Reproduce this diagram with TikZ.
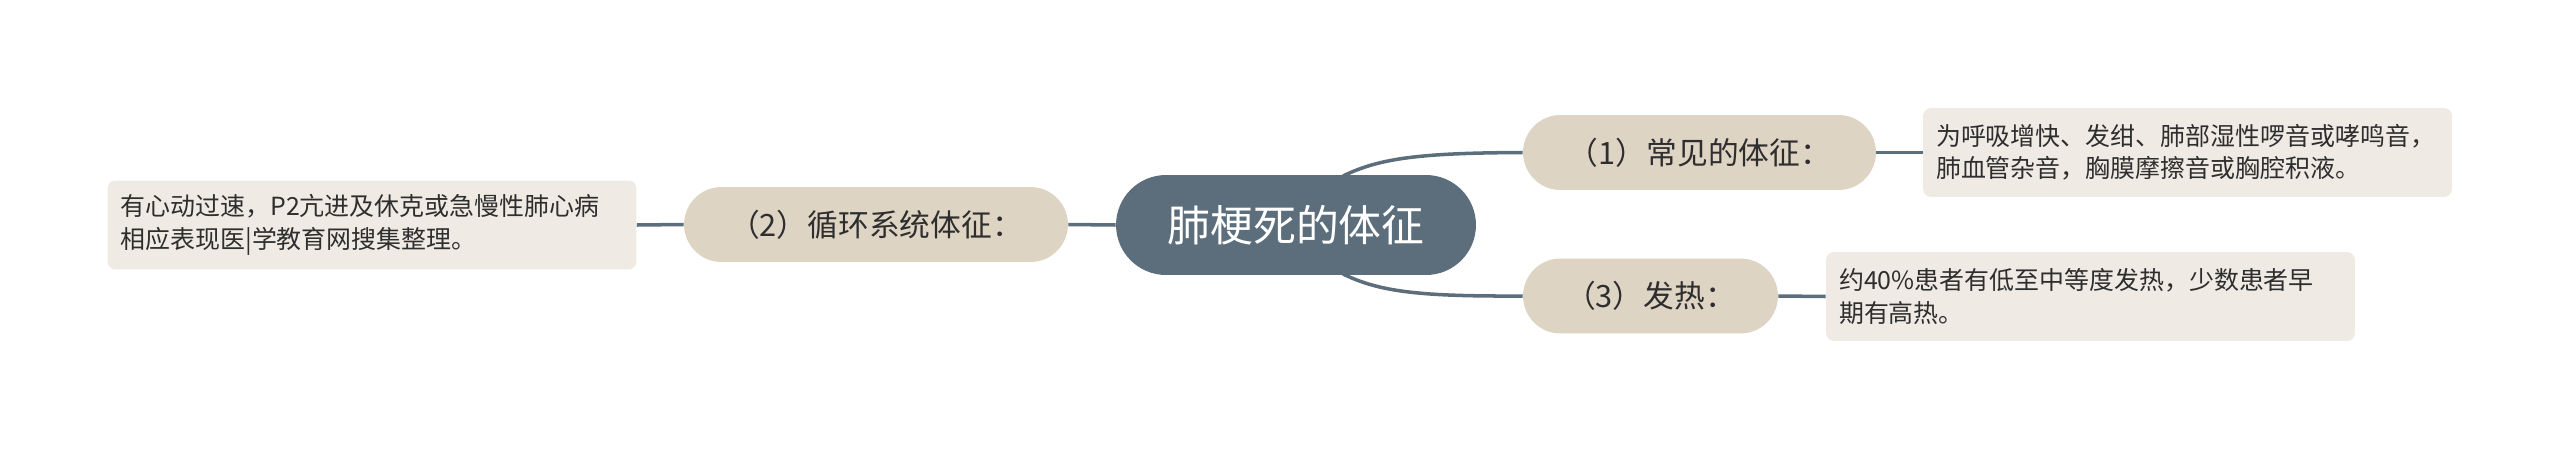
\documentclass[tikz,border=0pt]{standalone}
\usepackage{fontspec}
\newfontfamily\cjk{Noto Sans CJK SC}
\definecolor{centralfill}{HTML}{5C6E7B}
\definecolor{subfill}{HTML}{DED4C4}
\definecolor{detailfill}{HTML}{EFEBE4}
\definecolor{linecol}{HTML}{5C6E7B}
\definecolor{textcol}{HTML}{2E2E2E}
\tikzset{
  central/.style={draw=none, fill=centralfill, text=white, rounded corners=1cm,
    minimum width=7.2cm, minimum height=2cm, inner sep=0pt,
    font=\cjk\fontsize{24.4}{28}\selectfont},
  subnode/.style={draw=none, fill=subfill, text=textcol, rounded corners=0.75cm,
    minimum height=1.5cm, inner sep=0pt, font=\cjk\fontsize{17.5}{21}\selectfont},
  detail/.style={draw=none, fill=detailfill, text=textcol, rounded corners=0.16cm,
    minimum height=1.78cm, inner xsep=0.26cm, inner ysep=0pt, text width=10.06cm, align=left,
    font=\cjk\fontsize{14.2}{18.5}\selectfont},
  conn/.style={draw=linecol, line width=2pt}
}
\begin{document}
\begin{tikzpicture}[x=0.02cm, y=-0.02cm]
\useasboundingbox (0,0) rectangle (2560,450);
\coordinate (c1) at (1343,176);
\coordinate (c3) at (1343,274);
\node[central] (central) at (1296,225) {肺梗死的体征};
\node[subnode, minimum width=7.06cm] (n1) at (1699.5,152.5) {（1）常见的体征：};
\node[subnode, minimum width=5.1cm] (n3) at (1650.5,296) {（3）发热：};
\node[subnode, minimum width=7.68cm] (n2) at (876,224.5) {（2）循环系统体征：};
\node[detail] (d1) at (2187.5,152.5) {为呼吸增快、发绀、肺部湿性啰音或哮鸣音，\\肺血管杂音，胸膜摩擦音或胸腔积液。};
\node[detail] (d3) at (2090.5,296.5) {约40\%患者有低至中等度发热，少数患者早\\期有高热。};
\node[detail] (d2) at (372,225) {有心动过速，P2亢进及休克或急慢性肺心病\\相应表现医|学教育网搜集整理。};
\draw[conn] (c1) .. controls (1380,158) and (1420,153) .. (n1.west);
\draw[conn] (c3) .. controls (1380,292) and (1420,296.5) .. (n3.west);
\draw[conn] (central.west) -- (n2.east);
\draw[conn] (n2.west) -- (d2.east);
\draw[conn] (n1.east) -- (d1.west);
\draw[conn] (n3.east) -- (d3.west);
\end{tikzpicture}
\end{document}
